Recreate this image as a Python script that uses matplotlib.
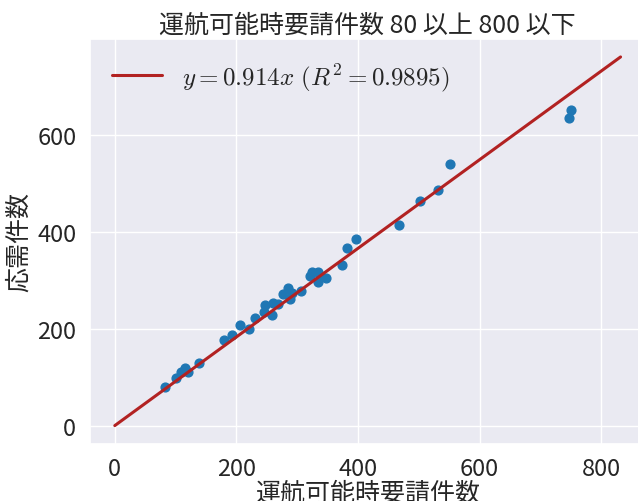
import matplotlib
matplotlib.use("Agg")
import matplotlib.pyplot as plt
import seaborn as sns
import numpy as np

x_vals = [83, 101, 109, 115, 121, 139, 180, 192, 206, 220, 230, 247, 245, 258, 261, 268,
          276, 285, 288, 292, 306, 321, 324, 335, 334, 338, 348, 374, 382, 397, 467, 502,
          532, 551, 747, 750]
y_vals = [79, 99, 111, 118, 110, 130, 177, 187, 207, 199, 222, 249, 234, 228, 253, 251,
          271, 284, 262, 273, 278, 309, 316, 316, 297, 308, 304, 332, 366, 385, 414, 463,
          486, 539, 635, 652]
slope = 0.914
r2 = 0.9895
line_x = [0, 832]

sns.set_theme(style="darkgrid")
plt.rcParams['font.family'] = ['Noto Sans CJK JP', 'DejaVu Sans']
plt.rcParams['mathtext.fontset'] = 'cm'

fig = plt.figure(figsize=(6.38, 5.02), dpi=100)
ax = fig.add_axes([0.1403, 0.1135, 0.872, 0.8078])

ax.scatter(x_vals, y_vals, s=40, color='#1f77b4', zorder=3)
lx = np.array(line_x, dtype=float)
ax.plot(lx, slope * lx, color='#b22222', lw=2.2,
        label=r'$y = %.3fx\ (R^2 = %.4f)$' % (slope, r2), zorder=4)

ax.set_xticks([0, 200, 400, 600, 800])
ax.set_yticks([0, 200, 400, 600])
ax.tick_params(labelsize=17, colors='#262626')
ax.set_title('運航可能時要請件数 80 以上 800 以下', fontsize=18, color='#262626', pad=5)
ax.set_xlabel('運航可能時要請件数', fontsize=18, labelpad=0, color='#262626')
ax.set_ylabel('応需件数', fontsize=18, color='#262626')
ax.legend(loc='upper left', frameon=False, fontsize=18, handlelength=2.0)

fig.savefig('out.png', dpi=100)
